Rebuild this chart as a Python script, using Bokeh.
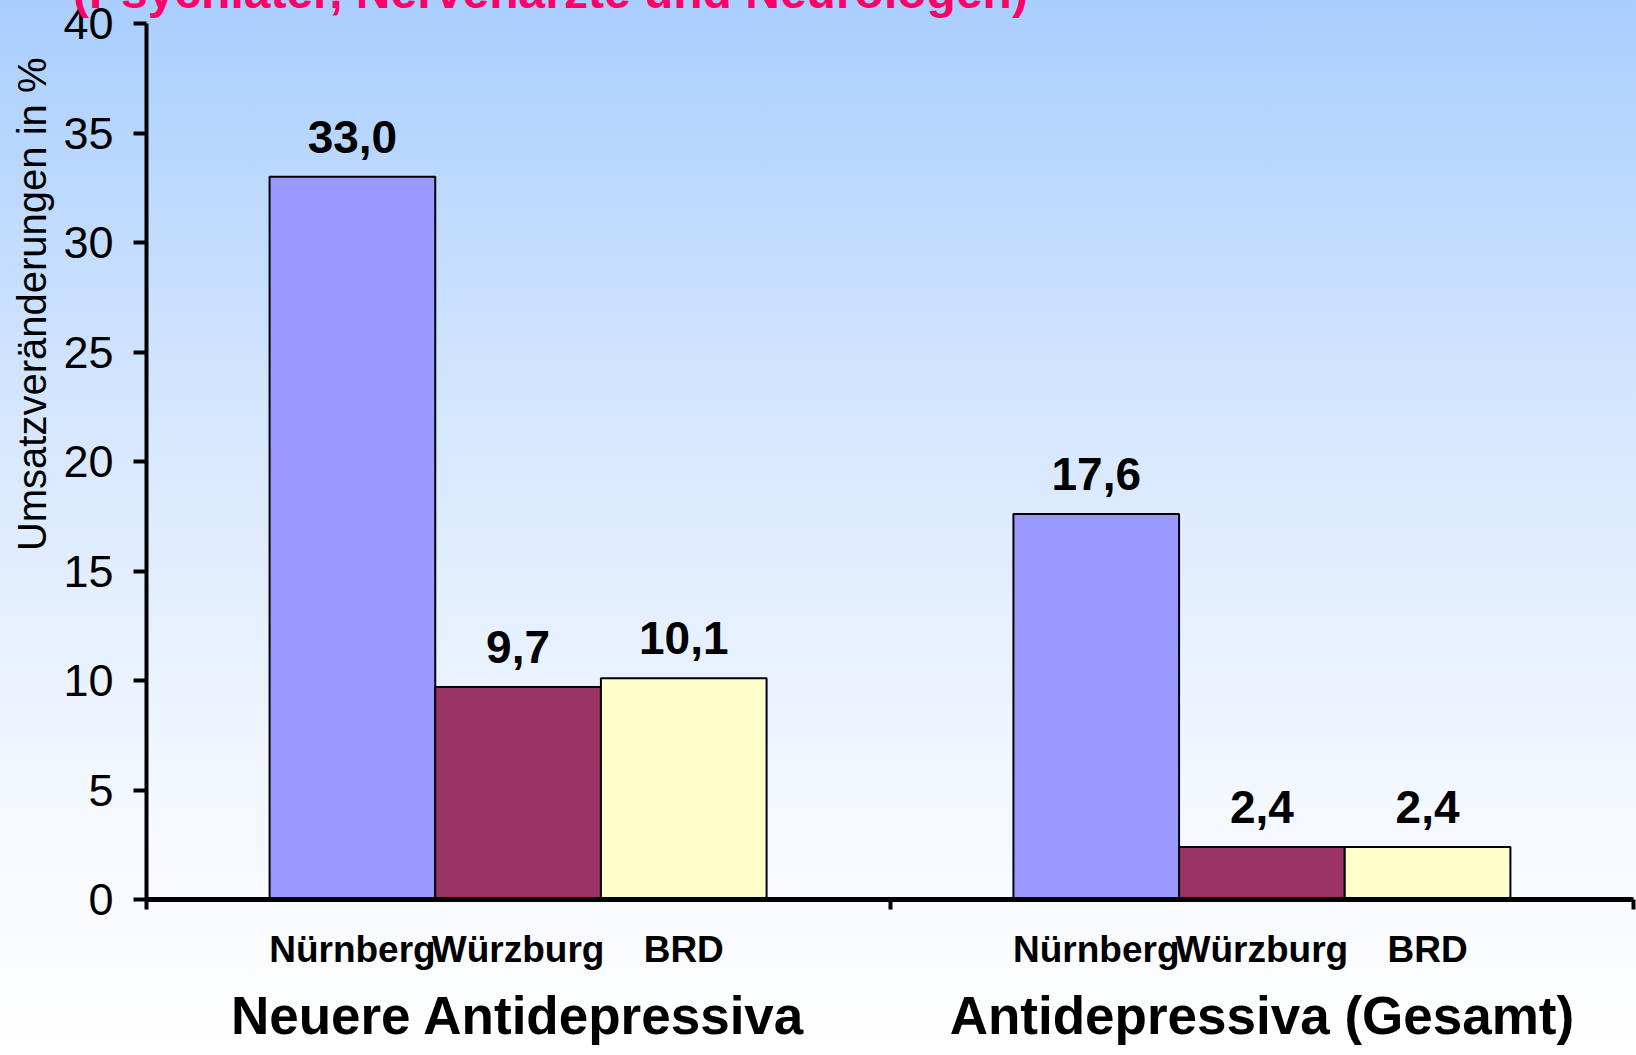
from bokeh.plotting import figure
from bokeh.models import (FactorRange, Range1d, FixedTicker, ColumnDataSource,
                          CategoricalAxis, Title, Div)
from bokeh.layouts import column
from bokeh.core.properties import value
from bokeh.embed import file_html
from bokeh.resources import INLINE

# ---- data ----
groups = ["Neuere Antidepressiva", "Antidepressiva (Gesamt)"]
regions = ["Nürnberg", "Würzburg", "BRD"]
neuere_values = [33.0, 9.7, 10.1]
gesamt_values = [17.6, 2.4, 2.4]
region_colors = ["#9999FF", "#993366", "#FFFFCC"]
y_ticks = [0, 5, 10, 15, 20, 25, 30, 35, 40]
y_label = "Umsatzveränderungen in %"
title_text = "(Psychiater, Nervenärzte und Neurologen)"

FONT = "Liberation Sans"

factors = [(g, r) for g in groups for r in regions]
tops = neuere_values + gesamt_values
colors = region_colors * len(groups)
labels = [f"{v:.1f}".replace(".", ",") for v in tops]

src = ColumnDataSource(dict(x=factors, top=tops, color=colors, label=labels))

x_range = FactorRange(*factors, factor_padding=0.0, group_padding=1.49,
                      range_padding=0.743, range_padding_units="absolute")

p = figure(width=1636, height=1055, x_range=x_range, y_range=Range1d(0, 40),
           output_backend="svg", toolbar_location=None, x_axis_location=None,
           min_border_left=146, min_border_top=23, min_border_right=3, min_border_bottom=156)

p.styles = {"background": "linear-gradient(180deg, #A9CEFE 0%, #D6E7FE 40%, #F3F7FF 75%, #FFFFFF 100%)"}
p.background_fill_alpha = 0
p.border_fill_alpha = 0
p.outline_line_alpha = 0
p.xgrid.visible = False
p.ygrid.visible = False

# bars
p.vbar(x="x", top="top", width=1.0, bottom=0, source=src, fill_color="color",
       line_color="black", line_width=2)

# value labels
p.text(x="x", y="top", text="label", source=src, text_font=value(FONT),
       text_font_style="bold", text_font_size="46px", text_align="center",
       text_baseline="alphabetic", y_offset=-40, text_color="black")

# y axis
ya = p.yaxis[0]
ya.ticker = FixedTicker(ticks=y_ticks)
ya.axis_line_width = 4
ya.axis_line_color = "black"
ya.major_tick_line_width = 4
ya.major_tick_out = 13
ya.major_tick_in = 0
ya.minor_tick_line_alpha = 0
ya.major_label_standoff = 20
ya.major_label_text_font = FONT
ya.major_label_text_font_size = "45px"
ya.major_label_text_color = "black"

# y axis title, placed toward the upper part like the original
p.add_layout(Title(text=y_label, align="right", offset=34, standoff=14,
                   text_font=FONT, text_font_size="40px", text_font_style="normal",
                   text_color="black"), "left")

# x axis line with ticks at the category boundaries (left edge, between groups, right edge)
boundary_marks = [" " * (i + 1) for i in range(len(groups) + 1)]
p.extra_x_ranges = {"bounds": FactorRange(*boundary_marks, factor_padding=2000.0)}
xa_line = CategoricalAxis(x_range_name="bounds")
xa_line.axis_line_width = 5
xa_line.axis_line_color = "black"
xa_line.major_tick_line_width = 4
xa_line.major_tick_out = 10
xa_line.major_tick_in = 0
xa_line.minor_tick_line_alpha = 0
xa_line.separator_line_alpha = 0
xa_line.major_label_standoff = 0
xa_line.major_label_text_font_size = "1px"
xa_line.major_label_text_alpha = 0
p.add_layout(xa_line, "below")

# categorical axis for labels
xa_cat = CategoricalAxis()
xa_cat.axis_line_alpha = 0
xa_cat.major_tick_line_alpha = 0
xa_cat.minor_tick_line_alpha = 0
xa_cat.separator_line_alpha = 0
xa_cat.major_label_standoff = 13
xa_cat.major_label_text_font = FONT
xa_cat.major_label_text_font_style = "bold"
xa_cat.major_label_text_font_size = "37px"
xa_cat.major_label_text_color = "black"
xa_cat.group_text_font = FONT
xa_cat.group_text_font_style = "bold"
xa_cat.group_text_font_size = "53px"
xa_cat.group_text_color = "black"
p.add_layout(xa_cat, "below")

# heading that is cut off at the very top of the slide
heading = Div(text=title_text, width=1100, height=60, margin=(-32, 0, -28, 73),
              styles={"position": "relative", "z-index": "10", "color": "#FF0066",
                      "font-family": FONT, "font-weight": "bold", "font-size": "48px",
                      "line-height": "1", "white-space": "nowrap"})

layout = column(heading, p, spacing=0)

open("out.html", "w").write(file_html(layout, INLINE))
